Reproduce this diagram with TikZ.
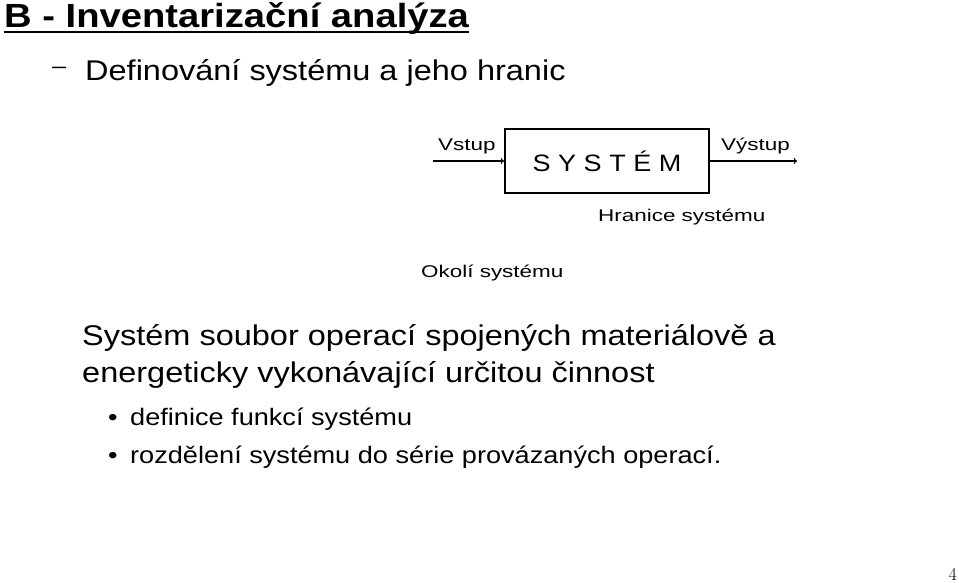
\documentclass[tikz,border=0pt]{standalone}
\usepackage{fontspec}
\setsansfont[FakeStretch=1.14]{Liberation Sans}
\newfontfamily\diagfont[FakeStretch=1.32]{Liberation Sans}
\usetikzlibrary{arrows}
\tikzset{
  slidetext/.style={
    % Text set on its baseline, from the left edge:
    anchor=base west,inner sep=0pt,
    % The font:
    font=\sffamily\fontsize{28.5}{34}\selectfont
  }}
\tikzset{
	itemtext/.style={slidetext,font=\sffamily\fontsize{23.8}{28}\selectfont},
	diaglabel/.style={
		anchor=base west,inner sep=0pt,
		font=\diagfont\fontsize{17}{20}\selectfont}}
\tikzset{
	sysbox/.style={
		% The shape:
		rectangle,minimum width=204pt,minimum height=64pt,inner sep=0pt,
		% The border:
		draw=black,line width=2pt,
		font=\sffamily\fontsize{23.7}{28}\selectfont},
	flow/.style={->,line width=1.2pt}}

\begin{document}
\begin{tikzpicture}[x=1pt,y=-1pt]
	\useasboundingbox (0,0) rectangle (959,583);
	% Heading
	\node[slidetext,font=\sffamily\bfseries\fontsize{33.5}{40}\selectfont] (title) at (4,27.5) {B - Inventarizační analýza};
	\draw[line width=2pt] ([yshift=-5pt]title.base west) -- ([yshift=-5pt]title.base east);
	\node[slidetext,font=\sffamily\fontsize{22}{26}\selectfont] (dash) at (52,74) {–};
	\node[slidetext] (sub) at (85,81) {Definování systému a jeho hranic};
	% The system and its boundary
	\node[sysbox] (system) at (607,161) {S Y S T É M};
	\coordinate (in) at (433,161);
	\coordinate (out) at (797,161);
	\draw[flow] (in) -- (system);
	\draw[flow] (system) -- (out);
	\node[diaglabel] (vstup) at (438,151) {Vstup};
	\node[diaglabel] (vystup) at (721,151) {Výstup};
	\node[diaglabel] (hranice) at (598,221.5) {Hranice systému};
	\node[diaglabel] (okoli) at (421,277) {Okolí systému};
	% Definition
	\node[slidetext] (def1) at (82,345.7) {Systém soubor operací spojených materiálově a};
	\node[slidetext] (def2) at (82,382) {energeticky vykonávající určitou činnost};
	\node[itemtext] (dot1) at (108,425) {•};
	\node[itemtext] (item1) at (130,425) {definice funkcí systému};
	\node[itemtext] (dot2) at (108,463) {•};
	\node[itemtext] (item2) at (130,463) {rozdělení systému do série provázaných operací.};
	% Page number
	\node[anchor=base east,inner sep=0pt,font=\rmfamily\fontsize{18}{20}\selectfont] (pagenum) at (957,580) {4};
\end{tikzpicture}
\end{document}
